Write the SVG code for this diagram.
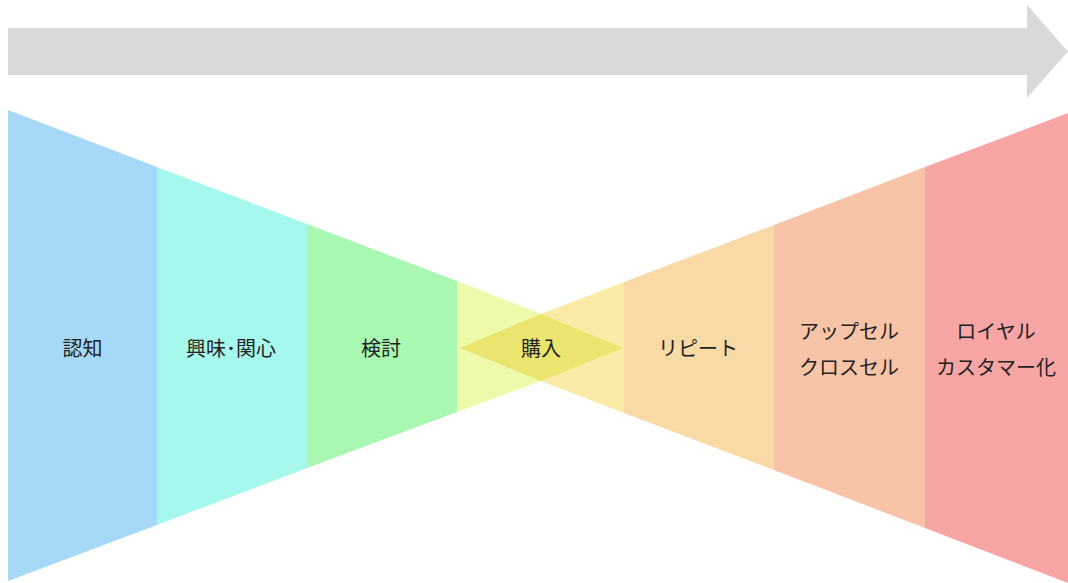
<svg xmlns="http://www.w3.org/2000/svg" width="1068" height="583" viewBox="0 0 1068 583">
  <style>
    .lbl { font-family: "Noto Sans CJK JP", "Noto Sans", sans-serif; font-size: 20px; fill: #222; text-anchor: middle; dominant-baseline: central; }
  </style>
  <rect x="0" y="0" width="1068" height="583" fill="#ffffff"/>
  <g id="flow-arrow">
    <polygon points="8,28 1027,28 1027,5 1068,51.5 1027,98 1027,75 8,75" fill="#D9D9D9"/>
  </g>
  <g id="stage-awareness">
    <polygon points="8,110 157,167 157,525 8,581" fill="#A6D8F7"/>
    <text class="lbl" x="82.5" y="347">認知</text>
  </g>
  <g id="stage-interest">
    <polygon points="157,167 307,224 307,468 157,525" fill="#A7F8EC"/>
    <text class="lbl" x="231" y="347">興味･関心</text>
  </g>
  <g id="stage-consideration">
    <polygon points="307,224 457,281 457,412 307,468" fill="#A8F8B1"/>
    <text class="lbl" x="381" y="347">検討</text>
  </g>
  <g id="stage-purchase">
    <polygon points="457,281 541,314 541,381 457,412" fill="#EEFAAA"/>
    <polygon points="541,314 624,282 624,413 541,381" fill="#FAEBA6"/>
    <polygon points="460,348 541,314 623,348 541,381" fill="#E9E56E"/>
    <text class="lbl" x="541" y="347">購入</text>
  </g>
  <g id="stage-repeat">
    <polygon points="624,282 774,225 774,470 624,413" fill="#F9DAA7"/>
    <text class="lbl" x="698" y="347">リピート</text>
  </g>
  <g id="stage-upsell">
    <polygon points="774,225 925,167 925,528 774,470" fill="#F8C4A7"/>
    <text class="lbl" x="849" y="330">アップセル</text>
    <text class="lbl" x="849" y="366">クロスセル</text>
  </g>
  <g id="stage-loyal">
    <polygon points="925,167 1068,113 1068,583 925,528" fill="#F8A6A5"/>
    <text class="lbl" x="996" y="330">ロイヤル</text>
    <text class="lbl" x="996" y="366">カスタマー化</text>
  </g>
  <g id="connectors"/>
</svg>
